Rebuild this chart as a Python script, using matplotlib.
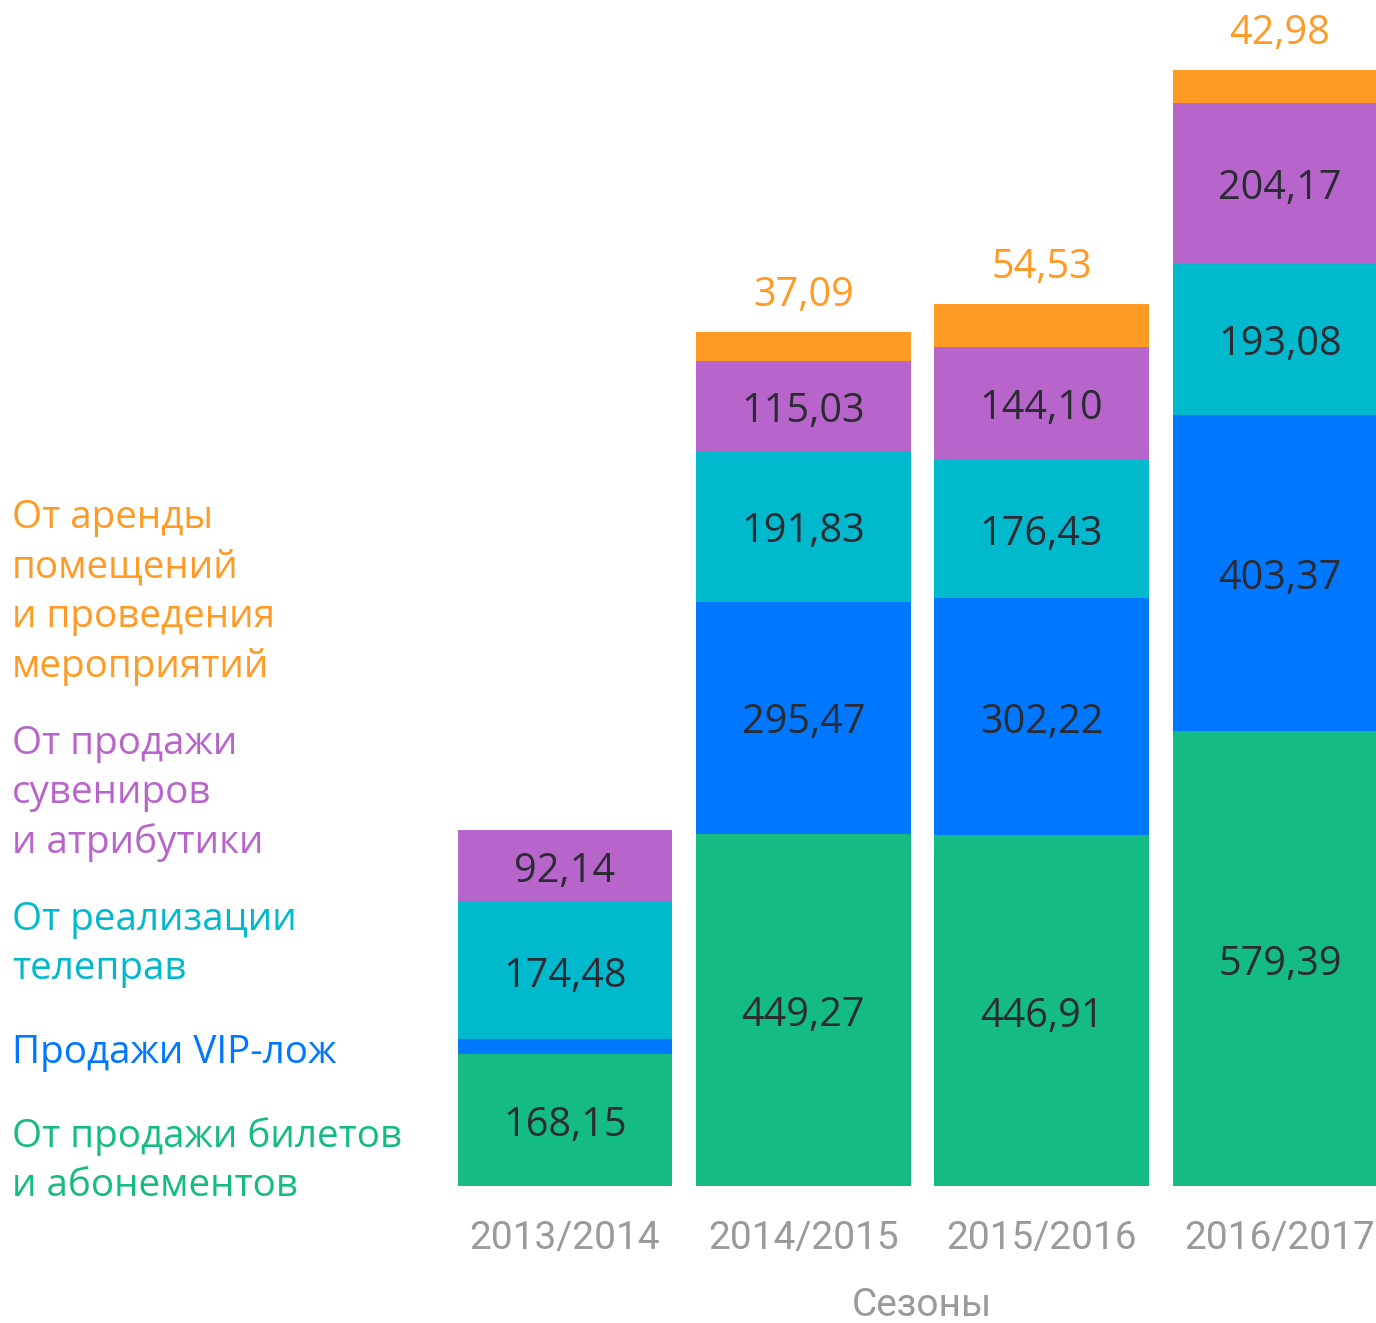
import matplotlib
matplotlib.use("Agg")
import matplotlib.pyplot as plt
import numpy as np

plt.rcParams['font.family'] = ['Roboto', 'DejaVu Sans']
wide_font = ['Open Sans', 'DejaVu Sans']

# ---- data ----
seasons = ["2013/2014", "2014/2015", "2015/2016", "2016/2017"]
tickets = [168.15, 449.27, 446.91, 579.39]      # От продажи билетов и абонементов
vip = [19.0, 295.47, 302.22, 403.37]            # Продажи VIP-лож
tv = [174.48, 191.83, 176.43, 193.08]           # От реализации телеправ
souvenirs = [92.14, 115.03, 144.10, 204.17]     # От продажи сувениров и атрибутики
rent = [0.0, 37.09, 54.53, 42.98]               # От аренды помещений и проведения мероприятий

series_names = [
    "От продажи билетов\nи абонементов",
    "Продажи VIP-лож",
    "От реализации\nтелеправ",
    "От продажи\nсувениров\nи атрибутики",
    "От аренды\nпомещений\nи проведения\nмероприятий",
]
series_values = [tickets, vip, tv, souvenirs, rent]
colors = ["#14BB84", "#0077FF", "#00B9CC", "#B865CB", "#FF9A24"]
show_inside = [True, True, True, True, False]
label_min = 40  # do not label tiny segments

xaxis_title = "Сезоны"

# ---- figure ----
W, H = 1376, 1323
fig = plt.figure(figsize=(W / 100, H / 100), dpi=100)
base_px = 1186
ax = fig.add_axes([0, (H - base_px) / H, 1, base_px / H])
scale = 0.7845  # px per unit
ax.set_ylim(0, base_px / scale)
c0, step = 565, 238.3
ax.set_xlim((0 - c0) / step, (W - c0) / step)
ax.axis('off')

x = np.arange(len(seasons))
bottom = np.zeros(len(seasons))
for vals, col, inside in zip(series_values, colors, show_inside):
    vals = np.array(vals)
    ax.bar(x, vals, bottom=bottom, width=0.9, color=col, linewidth=0)
    for xi, b, v in zip(x, bottom, vals):
        if v <= 0:
            continue
        txt = f"{v:.2f}".replace('.', ',')
        if inside:
            if v >= label_min:
                ax.annotate(txt, (xi, b + v / 2), xytext=(0, -4), textcoords='offset points',
                            ha='center', va='center', fontsize=28.5, color='#2b2b33',
                            family=wide_font)
        else:
            ax.annotate(txt, (xi, b + v), xytext=(0, 26), textcoords='offset points',
                        ha='center', va='center', fontsize=28.5, color=col,
                        family=wide_font)
    bottom += vals

# season labels
for xi, s in zip(x, seasons):
    ax.annotate(s, (xi, 0), xycoords=('data', 'axes fraction'),
                xytext=(0, -37.5), textcoords='offset points',
                ha='center', va='center', fontsize=28, color='#9a9a9a',
                annotation_clip=False)
fig.text(922 / W, 1 - 1306 / H, xaxis_title, ha='center', va='center',
         fontsize=28, color='#9a9a9a')

# legend text (left side)
first_line_y = [1137, 1053, 920, 744, 518]
line_step = 49.5
for name, col, y0 in zip(series_names, colors, first_line_y):
    for i, line in enumerate(name.split("\n")):
        fig.text(12 / W, 1 - (y0 + i * line_step) / H, line, ha='left', va='center',
                 fontsize=27.8, color=col, family=wide_font)

fig.savefig("out.png", dpi=100)
